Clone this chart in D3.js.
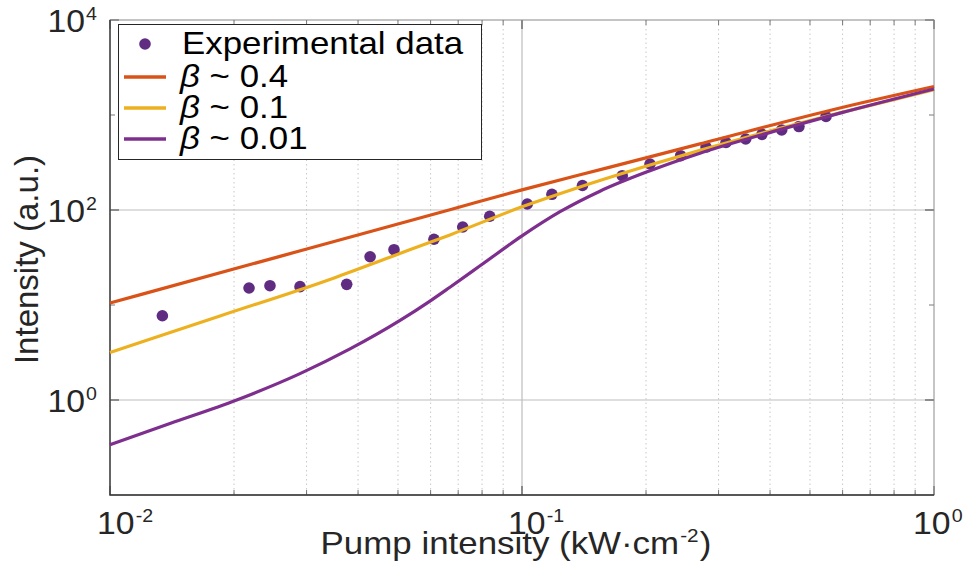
<!DOCTYPE html>
<html>
<head>
<meta charset="utf-8">
<script src="https://cdn.jsdelivr.net/npm/d3@7"></script>
<style>
  body { margin: 0; background: #fff; }
  svg { display: block; font-family: "Liberation Sans", Arial, Helvetica, sans-serif; }
</style>
</head>
<body>
<svg id="chart" width="972" height="571"></svg>
<script>
// measured points
const expPump = [0.0134, 0.02175, 0.02445, 0.02892, 0.03754, 0.04279, 0.0489, 0.06114, 0.07181, 0.0835,
  0.103, 0.1182, 0.1402, 0.1751, 0.2045, 0.2427, 0.2797, 0.3127, 0.3491, 0.3824, 0.4269, 0.4701, 0.5469];
const expIntensity = [7.71, 15.1, 15.96, 15.6, 16.5, 32.2, 38.2, 49.2, 66.2, 85.9,
  115.6, 146.3, 181, 229.6, 304.9, 373, 460, 513.6, 558.7, 626, 695, 756, 964];

// model curves
const beta04Pump = [0.01, 0.02586, 0.06685, 0.1, 0.1636, 0.2704, 0.5911, 1.0];
const beta04Int = [10.5, 32.5, 100.7, 162.9, 282.5, 496.6, 1186, 1995];

const beta01Pump = [0.01, 0.01849, 0.03417, 0.04781, 0.06685, 0.1, 0.1383, 0.2045, 0.2704, 0.4228, 0.5911, 1.0];
const beta01Int = [3.16, 7.67, 18.6, 31.9, 54.7, 107.9, 174.6, 297, 424.6, 724, 1052, 1845];

const beta001Pump = [0.01, 0.01398, 0.0203, 0.02892, 0.03824, 0.05058, 0.05979, 0.06685, 0.0791, 0.1,
  0.1237, 0.1546, 0.2045, 0.2704, 0.4228, 0.5911, 1.0];
const beta001Int = [0.339, 0.565, 1.0, 1.895, 3.447, 6.88, 11.0, 15.4, 25.85, 53.4,
  95.9, 157.8, 258.8, 396, 701, 1047, 1879];

const xTickValues = [0.01, 0.1, 1];
const xTickExps = ["-2", "-1", "0"];
const yTickValues = [1, 100, 10000];
const yTickExps = ["0", "2", "4"];
const legendLabels = ["Experimental data", "~ 0.4", "~ 0.1", "~ 0.01"];

const colors = { exp: "#5f2c82", b04: "#D95319", b01: "#EDB120", b001: "#7E2F8E" };

const margin = { top: 20, right: 38, bottom: 76, left: 110 };
const innerWidth = 972 - margin.left - margin.right;
const innerHeight = 571 - margin.top - margin.bottom;
const textStretch = 1.09;

const svg = d3.select("#chart");
const innerChart = svg.append("g")
  .attr("transform", `translate(${margin.left},${margin.top})`);

const xScale = d3.scaleLog().domain([0.01, 1]).range([0, innerWidth]);
const yScale = d3.scaleLog().domain([0.1, 1e4]).range([innerHeight, 0]);

// minor x positions
const xMinor = [];
[0.01, 0.1].forEach(dec => {
  for (let k = 2; k <= 9; k++) xMinor.push(k * dec);
});
const yMinor = [10, 1000];

// grid
innerChart.append("g")
  .selectAll("line")
  .data(xMinor)
  .join("line")
  .attr("x1", d => xScale(d))
  .attr("x2", d => xScale(d))
  .attr("y1", 0)
  .attr("y2", innerHeight)
  .attr("stroke", "#c8c8c8")
  .attr("stroke-width", 1)
  .attr("stroke-dasharray", "1.5,3");

innerChart.append("g")
  .selectAll("line")
  .data([0.1])
  .join("line")
  .attr("x1", d => xScale(d))
  .attr("x2", d => xScale(d))
  .attr("y1", 0)
  .attr("y2", innerHeight)
  .attr("stroke", "#bdbdbd")
  .attr("stroke-width", 1.2);

innerChart.append("g")
  .selectAll("line")
  .data([1, 100])
  .join("line")
  .attr("x1", 0)
  .attr("x2", innerWidth)
  .attr("y1", d => yScale(d))
  .attr("y2", d => yScale(d))
  .attr("stroke", "#bdbdbd")
  .attr("stroke-width", 1.2);

// ticks, drawn inward on all four sides
const tickGroup = innerChart.append("g").attr("stroke", "#555");
[0, innerHeight].forEach(yEdge => {
  const dir = yEdge === 0 ? 1 : -1;
  tickGroup.append("g").selectAll("line")
    .data(xTickValues.concat(xMinor))
    .join("line")
    .attr("x1", d => xScale(d))
    .attr("x2", d => xScale(d))
    .attr("y1", yEdge)
    .attr("y2", d => yEdge + dir * (xTickValues.includes(d) ? 9 : 5))
    .attr("stroke-width", d => xTickValues.includes(d) ? 1.2 : 0.8);
});
[0, innerWidth].forEach(xEdge => {
  const dir = xEdge === 0 ? 1 : -1;
  tickGroup.append("g").selectAll("line")
    .data(yTickValues.concat(yMinor))
    .join("line")
    .attr("y1", d => yScale(d))
    .attr("y2", d => yScale(d))
    .attr("x1", xEdge)
    .attr("x2", d => xEdge + dir * (yTickValues.includes(d) ? 9 : 5))
    .attr("stroke-width", d => yTickValues.includes(d) ? 1.2 : 0.8);
});

// axes box
innerChart.append("rect")
  .attr("width", innerWidth)
  .attr("height", innerHeight)
  .attr("fill", "none")
  .attr("stroke", "#8a8a8a")
  .attr("stroke-width", 1);
innerChart.append("path")
  .attr("d", `M0,0V${innerHeight}H${innerWidth}`)
  .attr("fill", "none")
  .attr("stroke", "#333")
  .attr("stroke-width", 1.3);

// "10" with a raised exponent, as two plain text nodes
const powerLabel = (g, exp, anchorEnd) => {
  const base = g.append("text")
    .attr("font-size", 31)
    .attr("fill", "#262626")
    .text("10");
  const w = base.node().getComputedTextLength();
  const sup = g.append("text")
    .attr("x", w + 1)
    .attr("y", -12)
    .attr("font-size", 18)
    .attr("fill", "#262626")
    .text(exp);
  if (anchorEnd) {
    const total = w + 1 + sup.node().getComputedTextLength();
    base.attr("x", -total);
    sup.attr("x", -total + w + 1);
  }
};

const xLabelShift = [-13, -14, -21];
innerChart.append("g")
  .selectAll("g")
  .data(xTickValues)
  .join("g")
  .attr("transform", (d, i) => `translate(${xScale(d) + xLabelShift[i]},${innerHeight + 39}) scale(${textStretch},1)`)
  .each(function (d, i) { powerLabel(d3.select(this), xTickExps[i], false); });

innerChart.append("g")
  .selectAll("g")
  .data(yTickValues)
  .join("g")
  .attr("transform", d => `translate(-13,${yScale(d) + 12}) scale(${textStretch},1)`)
  .each(function (d, i) { powerLabel(d3.select(this), yTickExps[i], true); });

// x title, built from pieces then centred
const xTitle = svg.append("g");
const t1 = xTitle.append("text")
  .attr("font-size", 32)
  .attr("fill", "#262626")
  .text("Pump intensity (kW\u00b7cm");
const w1 = t1.node().getComputedTextLength();
const t2 = xTitle.append("text")
  .attr("x", w1 + 1)
  .attr("y", -12)
  .attr("font-size", 19)
  .attr("fill", "#262626")
  .text("-2");
const w2 = t2.node().getComputedTextLength();
xTitle.append("text")
  .attr("x", w1 + w2 + 2)
  .attr("font-size", 32)
  .attr("fill", "#262626")
  .text(")");
const titleWidth = (w1 + w2 + 2 + 10.7) * textStretch;
xTitle.attr("transform", `translate(${margin.left + innerWidth / 2 - 6 - titleWidth / 2},554) scale(${textStretch},1)`);

svg.append("text")
  .attr("transform", `translate(38,${margin.top + innerHeight / 2 + 2}) rotate(-90)`)
  .attr("text-anchor", "middle")
  .attr("font-size", 33)
  .attr("fill", "#262626")
  .text("Intensity (a.u.)");

// data
innerChart.append("g")
  .selectAll("circle")
  .data(expPump.map((p, i) => ({ p, v: expIntensity[i] })))
  .join("circle")
  .attr("cx", d => xScale(d.p))
  .attr("cy", d => yScale(d.v))
  .attr("r", 5.8)
  .attr("fill", colors.exp);

const lineGen = d3.line()
  .x(d => xScale(d[0]))
  .y(d => yScale(d[1]))
  .curve(d3.curveMonotoneX);

const curves = [
  { pump: beta04Pump, val: beta04Int, color: colors.b04 },
  { pump: beta01Pump, val: beta01Int, color: colors.b01 },
  { pump: beta001Pump, val: beta001Int, color: colors.b001 }
];

innerChart.append("g")
  .selectAll("path")
  .data(curves)
  .join("path")
  .attr("d", d => lineGen(d.pump.map((p, i) => [p, d.val[i]])))
  .attr("fill", "none")
  .attr("stroke", d => d.color)
  .attr("stroke-width", 3.2);

// legend
const legend = svg.append("g");
legend.append("rect")
  .attr("x", 118.5)
  .attr("y", 24.5)
  .attr("width", 363)
  .attr("height", 135)
  .attr("fill", "#fff")
  .attr("stroke", "#262626")
  .attr("stroke-width", 1);

const rowY = [44, 77, 108, 139];
legend.append("circle")
  .attr("cx", 145)
  .attr("cy", rowY[0])
  .attr("r", 5.8)
  .attr("fill", colors.exp);

legend.selectAll(".legend-line")
  .data(curves)
  .join("line")
  .attr("class", "legend-line")
  .attr("x1", 124)
  .attr("x2", 166)
  .attr("y1", (d, i) => rowY[i + 1])
  .attr("y2", (d, i) => rowY[i + 1])
  .attr("stroke", d => d.color)
  .attr("stroke-width", 3.4);

legend.selectAll(".legend-row")
  .data(legendLabels)
  .join("g")
  .attr("class", "legend-row")
  .attr("transform", (d, i) => `translate(${i === 0 ? 182 : 180},${rowY[i] + 10}) scale(${textStretch},1)`)
  .each(function (d, i) {
    const row = d3.select(this);
    let x = 0;
    if (i > 0) {
      const beta = row.append("text")
        .attr("font-size", 32)
        .attr("font-style", "italic")
        .attr("fill", "#000")
        .text("\u03b2");
      x = beta.node().getComputedTextLength() + 8.9;
    }
    row.append("text")
      .attr("x", x)
      .attr("font-size", 32)
      .attr("fill", "#000")
      .text(d);
  });
</script>
</body>
</html>
